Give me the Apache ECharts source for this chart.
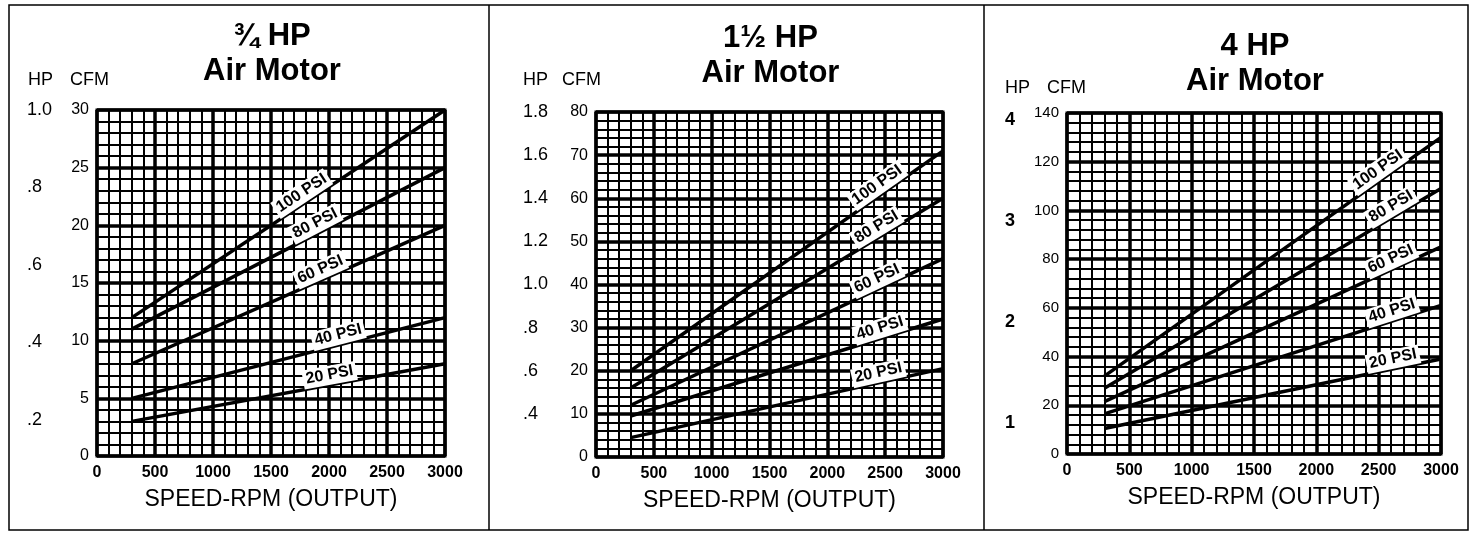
<!DOCTYPE html>
<html>
<head>
<meta charset="utf-8">
<style>
  html, body { margin: 0; padding: 0; background: #fff; }
  #chart { width: 1473px; height: 536px; }
</style>
<script src="https://cdn.jsdelivr.net/npm/echarts@6.0.0/dist/echarts.min.js"></script>
</head>
<body>
<div id="chart"></div>
<script>
// each curve is read at its two ends: 300 rpm and 3000 rpm
const speedRpm = [300, 3000]
const pressures = ['100 PSI', '80 PSI', '60 PSI', '40 PSI', '20 PSI']
const cfmQuarterHp = [[12, 30], [11, 25], [8, 20], [5, 12], [3, 8]]
const cfmOneHalfHp = [[20, 71], [16, 60], [12, 46], [9.5, 32], [4.5, 20.5]]
const cfmFourHp = [[32, 130], [27, 109], [21.5, 85], [16.5, 61], [10.5, 39]]
const titles = ['¾ HP\nAir Motor', '1½ HP\nAir Motor', '4 HP\nAir Motor']
const xAxisName = 'SPEED-RPM (OUTPUT)'

const FONT = '"Liberation Sans", Arial, Helvetica, sans-serif'

const decimalHp = v => { const s = v.toFixed(1); return s.startsWith('0.') ? s.slice(1) : s }
const wholeHp = v => String(Math.round(v))

const panels = [
  {
    cfm: cfmQuarterHp, title: titles[0], titleTop: 19,
    grid: { left: 97, top: 110, width: 348, height: 346 },
    cfmMax: 30, cfmStep: 5, cfmFont: 16,
    hpGrid: { left: 27, top: 110, height: 387.5 }, hpMin: 0, hpMax: 1, hpStep: 0.2, hpBold: false, hpFmt: decimalHp,
    headY: 80, hpX: 28, cfmX: 70,
    labelAt: [1810, 1920, 1960, 2100, 2020],
  },
  {
    cfm: cfmOneHalfHp, title: titles[1], titleTop: 21,
    grid: { left: 596, top: 112, width: 347, height: 345 },
    cfmMax: 80, cfmStep: 10, cfmFont: 16,
    hpGrid: { left: 523, top: 112, height: 345 }, hpMin: 0.2, hpMax: 1.8, hpStep: 0.2, hpBold: false, hpFmt: decimalHp,
    headY: 80, hpX: 523, cfmX: 562,
    labelAt: [2480, 2470, 2465, 2480, 2460],
  },
  {
    cfm: cfmFourHp, title: titles[2], titleTop: 29,
    grid: { left: 1067, top: 113, width: 374, height: 341 },
    cfmMax: 140, cfmStep: 20, cfmFont: 15,
    hpGrid: { left: 1005, top: 120, height: 404 }, hpMin: 0, hpMax: 4, hpStep: 1, hpBold: true, hpFmt: wholeHp,
    headY: 88, hpX: 1005, cfmX: 1047,
    labelAt: [2540, 2640, 2630, 2630, 2630],
  },
]

const chart = echarts.init(document.getElementById('chart'))

const grid = [], xAxis = [], yAxis = [], series = [], title = [], graphic = []

panels.forEach((p, pi) => {
  const g = 2 * pi
  grid.push({ ...p.grid, show: true, borderColor: '#000', borderWidth: 3, backgroundColor: '#fff', containLabel: false })
  grid.push({ ...p.hpGrid, width: 20 })

  xAxis.push({
    gridIndex: g, type: 'value', min: 0, max: 3000, interval: 500,
    axisLine: { show: false }, axisTick: { show: false },
    axisLabel: { fontFamily: FONT, fontWeight: 'bold', fontSize: 16, color: '#000', margin: 9, formatter: v => String(v) },
    splitLine: { lineStyle: { color: '#000', width: 3.5 } },
    minorTick: { show: false, splitNumber: 5 },
    minorSplitLine: { show: true, lineStyle: { color: '#000', width: 2 } },
    name: xAxisName, nameLocation: 'middle', nameGap: 32,
    nameTextStyle: { fontFamily: FONT, fontSize: 23, color: '#000' },
  })
  xAxis.push({ gridIndex: g + 1, type: 'value', show: false, min: 0, max: 1 })

  yAxis.push({
    gridIndex: g, type: 'value', min: 0, max: p.cfmMax, interval: p.cfmStep,
    axisLine: { show: false }, axisTick: { show: false },
    axisLabel: { fontFamily: FONT, fontSize: p.cfmFont, color: '#000', margin: 8 },
    splitLine: { lineStyle: { color: '#000', width: 3.5 } },
    minorTick: { show: false, splitNumber: 5 },
    minorSplitLine: { show: true, lineStyle: { color: '#000', width: 2 } },
  })
  yAxis.push({
    gridIndex: g + 1, type: 'value', min: p.hpMin, max: p.hpMax, interval: p.hpStep,
    axisLine: { show: false }, axisTick: { show: false }, splitLine: { show: false },
    axisLabel: {
      fontFamily: FONT, fontSize: 18, color: '#000', align: 'left', margin: 0,
      fontWeight: p.hpBold ? 'bold' : 'normal', showMinLabel: false, formatter: p.hpFmt,
    },
  })

  p.cfm.forEach((pair, i) => {
    series.push({
      type: 'line', name: pressures[i], xAxisIndex: g, yAxisIndex: g,
      data: speedRpm.map((r, k) => [r, pair[k]]),
      showSymbol: false, silent: true, z: 3,
      lineStyle: { color: '#000', width: 3.5 },
    })
  })

  title.push({
    text: p.title, left: p.grid.left + p.grid.width / 2 + 1, top: p.titleTop,
    textAlign: 'center', padding: 0,
    textStyle: { fontFamily: FONT, fontWeight: 'bold', fontSize: 31, lineHeight: 35, color: '#000' },
  })

  graphic.push({ type: 'text', x: p.hpX, y: p.headY, style: { text: 'HP', font: '18px ' + FONT, fill: '#000', verticalAlign: 'middle' } })
  graphic.push({ type: 'text', x: p.cfmX, y: p.headY, style: { text: 'CFM', font: '18px ' + FONT, fill: '#000', verticalAlign: 'middle' } })
})

// frame round the three charts
graphic.push({ type: 'rect', shape: { x: 9, y: 5, width: 1459, height: 525 }, style: { fill: 'none', stroke: '#000', lineWidth: 1.5 } })
graphic.push({ type: 'line', shape: { x1: 489, y1: 5, x2: 489, y2: 530 }, style: { stroke: '#000', lineWidth: 1.5 } })
graphic.push({ type: 'line', shape: { x1: 984, y1: 5, x2: 984, y2: 530 }, style: { stroke: '#000', lineWidth: 1.5 } })

chart.setOption({
  animation: false,
  textStyle: { fontFamily: FONT },
  title, grid, xAxis, yAxis, series,
})

// pressure labels laid along each curve, placed through the axes
panels.forEach((p, pi) => {
  p.cfm.forEach((pair, i) => {
    const a = chart.convertToPixel({ gridIndex: 2 * pi }, [speedRpm[0], pair[0]])
    const b = chart.convertToPixel({ gridIndex: 2 * pi }, [speedRpm[1], pair[1]])
    const t = (p.labelAt[i] - speedRpm[0]) / (speedRpm[1] - speedRpm[0])
    const ang = Math.atan2(a[1] - b[1], b[0] - a[0])
    graphic.push({
      type: 'text', z: 10,
      x: a[0] + (b[0] - a[0]) * t, y: a[1] + (b[1] - a[1]) * t,
      rotation: ang,
      style: {
        text: pressures[i], font: 'bold 16px ' + FONT, fill: '#000',
        align: 'center', verticalAlign: 'bottom',
        backgroundColor: '#fff', padding: [1, 3, 2, 3],
      },
    })
  })
})

chart.setOption({ graphic })
</script>
</body>
</html>
